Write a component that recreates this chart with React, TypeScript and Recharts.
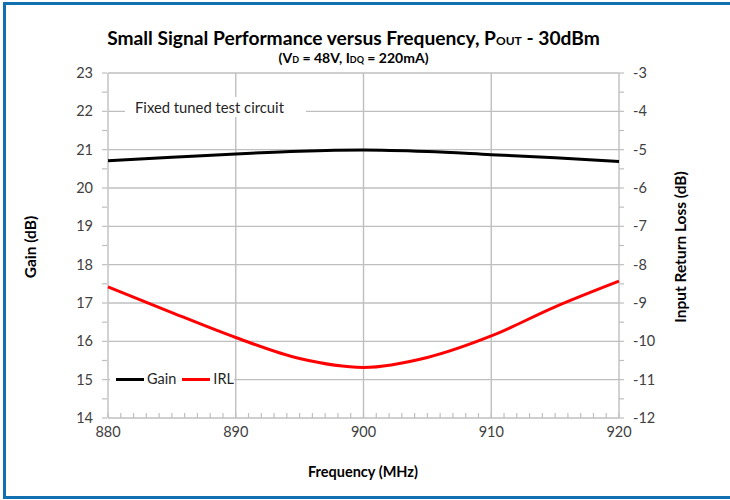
import React from "react";
import { CartesianGrid, ComposedChart, Line, XAxis, YAxis } from "recharts";

const freqs = [880, 885, 890, 895, 900, 905, 910, 915, 920];
const gain = [20.71, 20.8, 20.89, 20.96, 20.99, 20.95, 20.87, 20.79, 20.69];
const irl = [-8.58, -9.25, -9.9, -10.45, -10.68, -10.42, -9.86, -9.1, -8.43];

const xTicks = [880, 890, 900, 910, 920];
const gainTicks = [14, 15, 16, 17, 18, 19, 20, 21, 22, 23];
const irlTicks = [-12, -11, -10, -9, -8, -7, -6, -5, -4, -3];
// minor ticks: every 1 MHz on x, every 0.5 dB on y
const xAll = Array.from({ length: 41 }, (_, i) => 880 + i);
const gainAll = Array.from({ length: 19 }, (_, i) => 14 + i * 0.5);
const irlAll = Array.from({ length: 19 }, (_, i) => -12 + i * 0.5);

const data = freqs.map((f, i) => ({ freq: f, gain: gain[i], irl: irl[i] }));

const font = "Lato, 'Open Sans', sans-serif";
const grid = "#BFBFBF";
const textColor = "#404040";
const frame = "#1070B0";
const TM = 9;
const MINOR = 5;

const XTick = (p: any) => {
  const v = p.payload.value;
  return (
    <g>
      <line x1={p.x} x2={p.x} y1={p.y - TM} y2={p.y - TM - MINOR} stroke={grid} strokeWidth={1.2} />
      {v % 10 === 0 && (
        <text x={p.x} y={p.y} dy="0.71em" textAnchor="middle" fontSize={14.5} fill={textColor} fontFamily={font}>{v}</text>
      )}
    </g>
  );
};

const LeftTick = (p: any) => {
  const v = p.payload.value;
  return (
    <g>
      <line x1={p.x + TM} x2={p.x + TM + MINOR} y1={p.y} y2={p.y} stroke={grid} strokeWidth={1.2} />
      {Number.isInteger(v) && (
        <text x={p.x} y={p.y} dy="0.355em" textAnchor="end" fontSize={14.5} fill={textColor} fontFamily={font}>{v}</text>
      )}
    </g>
  );
};

const RightTick = (p: any) => {
  const v = p.payload.value;
  return (
    <g>
      <line x1={p.x - TM} x2={p.x - TM - MINOR} y1={p.y} y2={p.y} stroke={grid} strokeWidth={1.2} />
      {Number.isInteger(v) && (
        <text x={p.x} y={p.y} dy="0.355em" textAnchor="start" fontSize={14.5} fill={textColor} fontFamily={font}>{v}</text>
      )}
    </g>
  );
};

export default function App() {
  return (
    <div style={{ position: "fixed", left: 0, top: 0, width: 730, height: 500, background: "#fff", fontFamily: font, overflow: "hidden" }}>
      <div style={{ position: "absolute", left: 0, top: 0 }}>
        <ComposedChart width={730} height={500} data={data} margin={{ top: 73, right: 51, bottom: 52, left: 48 }}>
          <CartesianGrid stroke={grid} strokeWidth={1.4} yAxisId="g" horizontalValues={gainTicks} verticalValues={xTicks} />
          <XAxis dataKey="freq" type="number" domain={[880, 920]} ticks={xAll} interval={0} tick={XTick} tickLine={false} tickSize={0} axisLine={false} tickMargin={TM} height={30} />
          <YAxis yAxisId="g" domain={[14, 23]} ticks={gainAll} interval={0} tick={LeftTick} tickLine={false} tickSize={0} axisLine={false} tickMargin={TM + 6} width={60} />
          <YAxis yAxisId="r" orientation="right" domain={[-12, -3]} ticks={irlAll} interval={0} tick={RightTick} tickLine={false} tickSize={0} axisLine={false} tickMargin={TM + 5} width={60} />
          <Line yAxisId="g" dataKey="gain" type="monotone" stroke="#000" strokeWidth={3} dot={false} isAnimationActive={false} />
          <Line yAxisId="r" dataKey="irl" type="monotone" stroke="#FF0000" strokeWidth={3} dot={false} isAnimationActive={false} />
        </ComposedChart>
      </div>

      <div style={{ position: "absolute", left: 125, top: 97, width: 181, height: 20, background: "#fff", fontSize: 14.8, color: "#262626", lineHeight: "20px", paddingLeft: 10, boxSizing: "border-box" }}>
        Fixed tuned test circuit
      </div>

      <div style={{ position: "absolute", left: 110, top: 369, width: 124, height: 20, background: "#fff", fontSize: 14.5, color: "#262626", display: "flex", alignItems: "center", lineHeight: "20px" }}>
        <span style={{ display: "inline-block", width: 28, height: 3, background: "#000", marginLeft: 6, marginRight: 3 }} />
        <span>Gain</span>
        <span style={{ display: "inline-block", width: 28, height: 3, background: "#FF0000", marginLeft: 6, marginRight: 3 }} />
        <span>IRL</span>
      </div>

      <svg width={730} height={500} style={{ position: "absolute", left: 0, top: 0, pointerEvents: "none" }} fontFamily={font}>
        <rect x={3} y={2} width={3} height={497} fill={frame} />
        <rect x={3} y={2} width={727} height={3} fill={frame} />
        <rect x={3} y={496} width={727} height={3} fill={frame} />
        <text x={353.5} y={45} textAnchor="middle" fontSize={19.2} fontWeight={700} fill="#000">
          Small Signal Performance versus Frequency, P<tspan fontSize={12}>OUT</tspan> - 30dBm
        </text>
        <text x={353.5} y={63} textAnchor="middle" fontSize={14} fontWeight={700} fill="#000">
          (V<tspan fontSize={9}>D</tspan> = 48V, I<tspan fontSize={9}>DQ</tspan> = 220mA)
        </text>
        <text x={363} y={477} textAnchor="middle" fontSize={14.5} fontWeight={700} fill="#000">Frequency (MHz)</text>
        <text transform="translate(36,247) rotate(-90)" textAnchor="middle" fontSize={15.5} fontWeight={700} fill="#000">Gain (dB)</text>
        <text transform="translate(686,247) rotate(-90)" textAnchor="middle" fontSize={15.5} fontWeight={700} fill="#000">Input Return Loss (dB)</text>
      </svg>
    </div>
  );
}
